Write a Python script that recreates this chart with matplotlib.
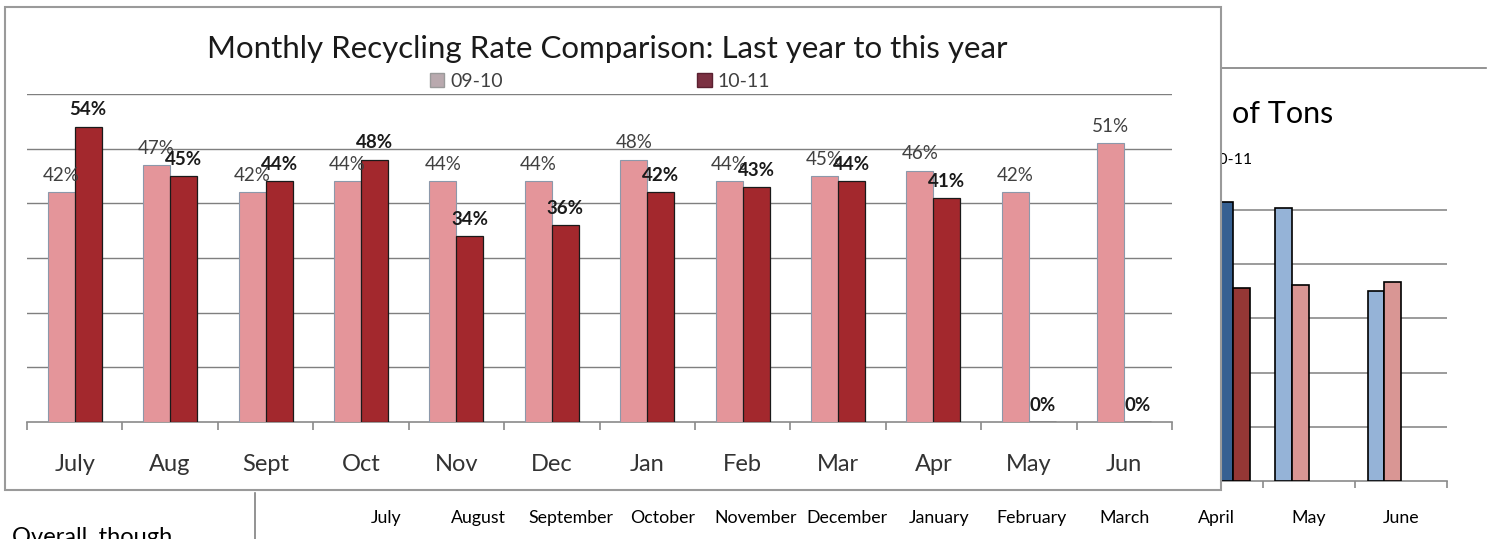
import matplotlib
matplotlib.use("Agg")
import matplotlib.pyplot as plt
import numpy as np
from matplotlib.patches import Rectangle
from matplotlib.lines import Line2D
from matplotlib.transforms import Bbox, TransformedBbox

plt.rcParams['font.family'] = ['Lato', 'DejaVu Sans']

# ---------------- data ----------------
months_short = ["July", "Aug", "Sept", "Oct", "Nov", "Dec", "Jan", "Feb", "Mar", "Apr", "May", "Jun"]
rate_0910 = [42, 47, 42, 44, 44, 44, 48, 44, 45, 46, 42, 51]
rate_1011 = [54, 45, 44, 48, 34, 36, 42, 43, 44, 41, 0, 0]
series_names = ["09-10", "10-11"]
title_main = "Monthly Recycling Rate Comparison: Last year to this year"

# background (partially hidden) chart
months_long = ["July", "August", "September", "October", "November", "December",
               "January", "February", "March", "April", "May", "June"]
nan = np.nan
tons_a_0910 = [nan, nan, nan, nan, nan, nan, nan, nan, nan, nan, 50.4, 35.0]
tons_b_0910 = [nan, nan, nan, nan, nan, nan, nan, nan, nan, nan, 36.1, 36.7]
tons_a_1011 = [nan, nan, nan, nan, nan, nan, nan, nan, nan, 51.5, nan, nan]
tons_b_1011 = [nan, nan, nan, nan, nan, nan, nan, nan, nan, 35.7, nan, nan]
title_bg = "of Tons"
legend_bg = "10-11"

W, H = 1487, 539
fig = plt.figure(figsize=(W / 100, H / 100), dpi=100)
fig.patch.set_facecolor("white")


def fx(x):
    return x / W


def fy(y):
    return 1 - y / H


def axrect(x0, y0, x1, y1):
    return [fx(x0), fy(y1), fx(x1) - fx(x0), fy(y0) - fy(y1)]


right_clip = TransformedBbox(Bbox([[fx(1222), 0], [1, 1]]), fig.transFigure)

# ---------------- background chart ----------------
axb = fig.add_axes(axrect(340, 190, 1447, 481))
axb.set_zorder(0)
xb = np.arange(len(months_long))
wb = 0.18
cols_bg = ["#95B3D7", "#D99694", "#366092", "#953735"]
for i, (vals, c) in enumerate(zip([tons_a_0910, tons_b_0910, tons_a_1011, tons_b_1011], cols_bg)):
    axb.bar(xb + (i - 1.5) * wb, vals, width=wb, color=c, edgecolor="black", linewidth=1.2, zorder=3)
axb.set_xlim(-0.5, 11.5)
axb.set_ylim(0, 53.7)
axb.set_yticks([10, 20, 30, 40, 50])
axb.yaxis.grid(True, color="#8a8a8a", linewidth=1.2)
axb.set_axisbelow(True)
axb.tick_params(axis="y", left=False, labelleft=False)
for s in ["top", "right", "left"]:
    axb.spines[s].set_visible(False)
axb.spines["bottom"].set_color("#8a8a8a")
axb.spines["bottom"].set_linewidth(1.2)
axb.set_xticks(xb)
axb.set_xticklabels(months_long, fontsize=12.8, color="black")
axb.tick_params(axis="x", which="major", length=0, pad=21)
axb.set_xticks(np.arange(-0.5, 12, 1), minor=True)
axb.tick_params(axis="x", which="minor", length=5, width=1.2, color="#8a8a8a")
axb.patch.set_alpha(0)

t1 = fig.text(fx(1232), fy(123), title_bg, ha="left", va="baseline", fontsize=22, color="black", zorder=0.5)
t2 = fig.text(fx(1253), fy(160), legend_bg, ha="right", va="center", fontsize=11.5, color="black", zorder=0.5)
t2.set_clip_box(right_clip)
t2.set_clip_on(True)
fig.add_artist(Line2D([fx(1222), fx(1486)], [fy(68), fy(68)], color="#808080", linewidth=1.2, zorder=0.5))
fig.add_artist(Line2D([fx(255), fx(255)], [fy(493), fy(539)], color="#808080", linewidth=1.2, zorder=0.5))
fig.text(fx(12), fy(527), "Overall, though", ha="left", va="top", fontsize=17, color="black", zorder=0.5)

# ---------------- main chart frame ----------------
frame = Rectangle((fx(5), fy(490)), fx(1221) - fx(5), fy(7) - fy(490), transform=fig.transFigure,
                  facecolor="white", edgecolor="#9a9a9a", linewidth=1.5, zorder=1)
fig.add_artist(frame)

ax = fig.add_axes(axrect(27, 94, 1172, 422))
ax.set_zorder(2)
ax.patch.set_alpha(0)
x = np.arange(len(months_short))
w = 0.283
c1, c2 = "#E4959A", "#A3282D"
ax.bar(x - w / 2, rate_0910, width=w, color=c1, edgecolor="#8c98aa", linewidth=0.8, zorder=3)
ax.bar(x + w / 2, rate_1011, width=w, color=c2, edgecolor="#1a1a1a", linewidth=0.9, zorder=3)
ax.set_xlim(-0.5, 11.5)
ax.set_ylim(0, 60)
ax.set_yticks([10, 20, 30, 40, 50, 60])
ax.yaxis.grid(True, color="#7f7f7f", linewidth=1.0)
ax.set_axisbelow(True)
ax.tick_params(axis="y", left=False, labelleft=False)
for s in ["top", "right", "left"]:
    ax.spines[s].set_visible(False)
ax.spines["bottom"].set_color("#8a8a8a")
ax.spines["bottom"].set_linewidth(1.2)
ax.set_xticks(x)
ax.set_xticklabels(months_short, fontsize=17, color="#333333")
ax.tick_params(axis="x", which="major", length=0, pad=23)
ax.set_xticks(np.arange(-0.5, 12, 1), minor=True)
ax.tick_params(axis="x", which="minor", length=6, width=1.2, color="#8a8a8a")

for xi, v in zip(x - w / 2, rate_0910):
    ax.annotate(f"{v}%", (xi, v), xytext=(0, 6), textcoords="offset points",
                ha="center", va="bottom", fontsize=13.5, color="#404040")
for xi, v in zip(x + w / 2, rate_1011):
    ax.annotate(f"{v}%", (xi, v), xytext=(0, 6), textcoords="offset points",
                ha="center", va="bottom", fontsize=13.5, color="#1a1a1a", fontweight="bold")

fig.text(fx(607), fy(49), title_main, ha="center", va="center", fontsize=22.5, color="#1a1a1a", zorder=3)

# legend
leg_handles = [Rectangle((0, 0), 1, 1, facecolor="#B9A9AE", edgecolor="#9a9a9a"),
               Rectangle((0, 0), 1, 1, facecolor="#7B3142", edgecolor="#5a2030")]
leg = fig.legend(leg_handles, series_names, loc="center", bbox_to_anchor=(fx(600), fy(81)),
                 ncol=2, frameon=False, fontsize=14, columnspacing=10.0, handlelength=0.75,
                 handleheight=0.75, handletextpad=0.3, labelcolor="#404040")
leg.set_zorder(3)

fig.savefig("out.png", dpi=100, facecolor="white")
